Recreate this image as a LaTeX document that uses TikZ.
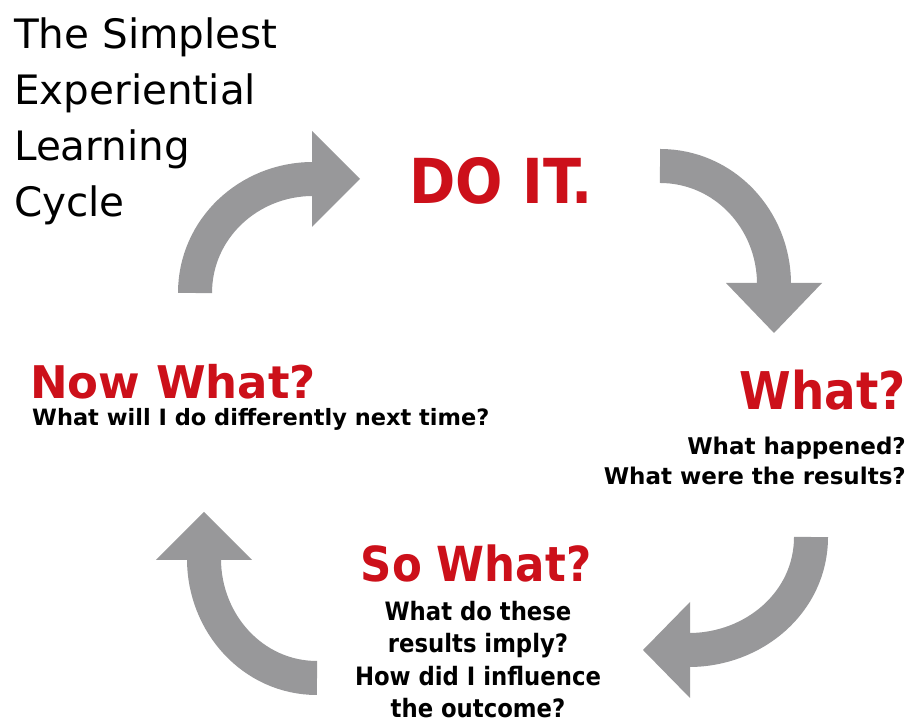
\documentclass[tikz,border=0pt]{standalone}
\usepackage{fontspec}
\setmainfont{DejaVu Sans Condensed}
\newfontfamily\widefont{DejaVu Sans}
\usetikzlibrary{calc}

\definecolor{cyclegray}{RGB}{152,152,154}
\definecolor{cyclered}{RGB}{204,16,26}

\begin{document}
\begin{tikzpicture}[x=1pt,y=1pt,
    shaft/.style={draw=cyclegray, line width=34pt},
    head/.style={fill=cyclegray},
    stage/.style={text=cyclered, inner sep=0pt, text depth=0pt},
    question/.style={inner sep=0pt}]
  % \draw[step=50,thin,gray!40] (0,0) grid (907,725);
  \useasboundingbox[fill=white] (0,0) rectangle (907,725);

  \node[inner sep=0pt, anchor=north west, align=left, font={\widefont\fontsize{40.5}{56}\selectfont}] (title) at (14,707) {The Simplest\\Experiential\\Learning\\Cycle};

  \node[stage, anchor=base west, font={\fontsize{62}{70}\selectfont\bfseries}] (doit) at (409,521) {DO IT.};

  \node[stage, anchor=base east, font={\fontsize{52}{56}\selectfont\bfseries}] (what) at (906,315) {What?};
  \node[question, anchor=north east, align=right, font={\widefont\fontsize{23}{30}\selectfont\bfseries}] (whatQ) at (906,288) {What happened?\\What were the results?};

  \node[stage, anchor=base, font={\fontsize{48.3}{56}\selectfont\bfseries}] (sowhat) at (476,143) {So What?};
  \node[question, anchor=north, align=center, font={\fontsize{25.3}{32.5}\selectfont\bfseries}] (sowhatQ) at (478,124) {What do these\\results imply?\\How did I influence\\the outcome?};

  \node[stage, anchor=base west, font={\widefont\fontsize{45}{50}\selectfont\bfseries}] (nowwhat) at (30,326) {Now What?};
  \node[question, anchor=base west, font={\widefont\fontsize{22.5}{26}\selectfont\bfseries}] (nowwhatQ) at (32,299) {What will I do differently next time?};

  % curved arrows of the cycle
  \coordinate (aTail) at (195,432);
  \coordinate (aBase) at (312,546);
  \coordinate (aTip) at (360,546);
  \coordinate (bTail) at (660,559);
  \coordinate (bBase) at (774,442);
  \coordinate (bTip) at (774,392);
  \coordinate (cTail) at (811,188);
  \coordinate (cBase) at (690,75);
  \coordinate (cTip) at (643,75);
  \coordinate (dTail) at (317,47);
  \coordinate (dBase) at (204,165);
  \coordinate (dTip) at (204,213);

  \draw[shaft] (aTail) to[out=90,in=180] ($(aBase)+(1,0)$);
  \fill[head] ($(aBase)+(0,48)$) -- (aTip) -- ($(aBase)+(0,-48)$) -- cycle;
  \draw[shaft] (bTail) to[out=0,in=90] ($(bBase)+(0,-1)$);
  \fill[head] ($(bBase)+(-48,0)$) -- (bTip) -- ($(bBase)+(48,0)$) -- cycle;
  \draw[shaft] (cTail) to[out=-90,in=0] ($(cBase)+(-1,0)$);
  \fill[head] ($(cBase)+(0,48)$) -- (cTip) -- ($(cBase)+(0,-48)$) -- cycle;
  \draw[shaft] (dTail) to[out=180,in=-90] ($(dBase)+(0,1)$);
  \fill[head] ($(dBase)+(-48,0)$) -- (dTip) -- ($(dBase)+(48,0)$) -- cycle;

\end{tikzpicture}
\end{document}
